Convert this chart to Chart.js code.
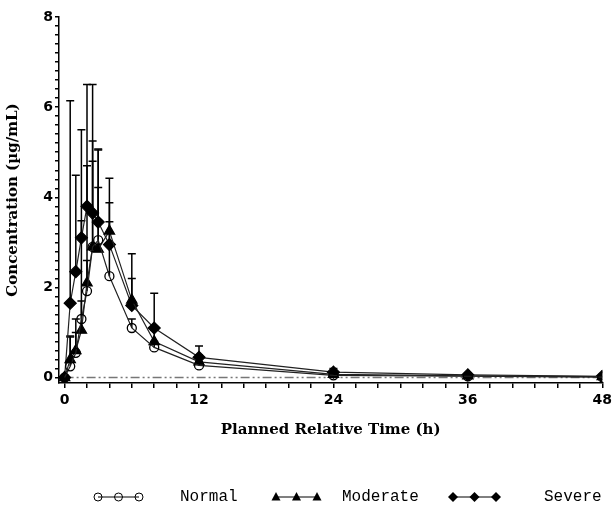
<!DOCTYPE html>
<html>
<head>
<meta charset="utf-8">
<script src="https://cdn.jsdelivr.net/npm/chart.js@4"></script>
<style>
  html, body { margin: 0; padding: 0; background: #ffffff; }
  #wrap { width: 616px; height: 511px; }
</style>
</head>
<body>
<div id="wrap"><canvas id="pkChart" width="616" height="511"></canvas></div>
<script>
// nominal sampling times (h)
const times = [0, 0.5, 1, 1.5, 2, 2.5, 3, 4, 6, 8, 12, 24, 36, 48];

// mean concentration (ug/mL) per hepatic impairment group
const normalMean = [0, 0.25, 0.55, 1.3, 1.92, 2.9, 3.05, 2.25, 1.1, 0.67, 0.27, 0.05, 0.03, 0.01];
const moderateMean = [0, 0.4, 0.6, 1.05, 2.1, 2.9, 2.85, 3.25, 1.72, 0.8, 0.35, 0.07, 0.04, 0.02];
const severeMean = [0, 1.65, 2.35, 3.1, 3.8, 3.65, 3.45, 2.95, 1.6, 1.1, 0.45, 0.12, 0.06, 0.03];

// mean + SD (top of the error bar)
const normalUpper = [0, 0.92, 1.0, 1.7, 2.6, 4.8, 4.22, 3.46, 1.3, 0.8, 0.35, 0.08, 0.05, 0.02];
const moderateUpper = [0, 0.9, 1.3, 3.48, 4.7, 6.5, 5.07, 4.42, 2.2, 1.05, 0.5, 0.12, 0.07, 0.04];
const severeUpper = [0, 6.14, 4.49, 5.5, 6.5, 5.25, 5.05, 3.88, 2.75, 1.87, 0.7, 0.2, 0.1, 0.05];

const groupNames = ['Normal', 'Moderate', 'Severe'];
const xTickLabels = [0, 12, 24, 36, 48];
const yTickLabels = [0, 2, 4, 6, 8];

const pts = (means) => times.map((t, i) => ({ x: t, y: means[i] }));
const uppers = [normalUpper, moderateUpper, severeUpper];

const errorBars = {
  id: 'errorBars',
  beforeDatasetsDraw(chart) {
    const { ctx, scales: { x, y } } = chart;
    ctx.save();
    ctx.strokeStyle = '#000';
    ctx.lineWidth = 1.5;
    uppers.forEach((up, d) => {
      const meta = chart.getDatasetMeta(d);
      meta.data.forEach((pt, i) => {
        const top = y.getPixelForValue(up[i]);
        if (pt.y - top < 1) return;
        const px = x.getPixelForValue(times[i]);
        ctx.beginPath();
        ctx.moveTo(px, pt.y);
        ctx.lineTo(px, top);
        ctx.moveTo(px - 4, top);
        ctx.lineTo(px + 4, top);
        ctx.stroke();
      });
    });
    ctx.restore();
  },
};

function drawMarker(ctx, style, cx, cy) {
  ctx.beginPath();
  if (style === 'circle') {
    ctx.arc(cx, cy, 4, 0, Math.PI * 2);
    ctx.stroke();
    return;
  }
  if (style === 'triangle') {
    ctx.moveTo(cx, cy - 5);
    ctx.lineTo(cx + 4.5, cy + 3.5);
    ctx.lineTo(cx - 4.5, cy + 3.5);
  } else {
    ctx.moveTo(cx, cy - 5);
    ctx.lineTo(cx + 5, cy);
    ctx.lineTo(cx, cy + 5);
    ctx.lineTo(cx - 5, cy);
  }
  ctx.closePath();
  ctx.fill();
}

const bottomLegend = {
  id: 'bottomLegend',
  afterDraw(chart) {
    const ctx = chart.ctx;
    const items = [
      { style: 'circle', x0: 98, x1: 139, tx: 180 },
      { style: 'triangle', x0: 276, x1: 317, tx: 342 },
      { style: 'rectRot', x0: 453, x1: 496, tx: 544 },
    ];
    const cy = 497;
    ctx.save();
    ctx.strokeStyle = '#000';
    ctx.fillStyle = '#000';
    ctx.lineWidth = 1;
    ctx.font = '16px "Liberation Mono", monospace';
    ctx.textBaseline = 'middle';
    items.forEach((it, k) => {
      ctx.beginPath();
      ctx.moveTo(it.x0, cy);
      ctx.lineTo(it.x1, cy);
      ctx.stroke();
      [it.x0, (it.x0 + it.x1) / 2, it.x1].forEach((mx) => drawMarker(ctx, it.style, mx, cy));
      ctx.fillText(groupNames[k], it.tx, cy);
    });
    ctx.restore();
  },
};

const near = (v, list) => list.some((l) => Math.abs(v - l) < 1e-6);
const tickFont = { family: '"DejaVu Sans", sans-serif', size: 14, weight: 'bold' };
const titleFont = { family: '"DejaVu Serif", serif', size: 15, weight: 'bold' };

new Chart(document.getElementById('pkChart'), {
  type: 'line',
  data: {
    datasets: [
      {
        label: groupNames[0],
        data: pts(normalMean),
        borderColor: '#222',
        borderWidth: 1.2,
        pointStyle: 'circle',
        pointRadius: 4.5,
        pointBackgroundColor: 'rgba(0,0,0,0)',
        pointBorderColor: '#000',
        pointBorderWidth: 1.3,
      },
      {
        label: groupNames[1],
        data: pts(moderateMean),
        borderColor: '#222',
        borderWidth: 1.2,
        pointStyle: 'triangle',
        pointRadius: 6,
        pointBackgroundColor: '#000',
        pointBorderColor: '#000',
      },
      {
        label: groupNames[2],
        data: pts(severeMean),
        borderColor: '#222',
        borderWidth: 1.2,
        pointStyle: 'rectRot',
        pointRadius: 6,
        pointBackgroundColor: '#000',
        pointBorderColor: '#000',
      },
      {
        label: 'zero',
        data: [{ x: 0, y: 0 }, { x: 48, y: 0 }],
        borderColor: '#777',
        borderWidth: 1.5,
        borderDash: [9, 3, 2, 3, 2, 3],
        pointRadius: 0,
      },
    ],
  },
  options: {
    responsive: false,
    animation: false,
    devicePixelRatio: 1,
    layout: { padding: { top: 17, right: 13, bottom: 68, left: 0 } },
    plugins: {
      legend: { display: false },
      tooltip: { enabled: false },
    },
    scales: {
      x: {
        type: 'linear',
        min: -0.5,
        max: 48,
        afterFit(scale) { scale.height = 60; },
        border: { display: true, color: '#000', width: 1.5 },
        grid: { drawOnChartArea: false, drawTicks: true, tickLength: 5, color: '#000', lineWidth: 1.5 },
        ticks: {
          stepSize: 2,
          includeBounds: false,
          autoSkip: false,
          maxRotation: 0,
          padding: 4,
          color: '#000',
          font: tickFont,
          callback: (v) => (near(v, xTickLabels) ? String(v) : ''),
        },
        title: { display: true, text: 'Planned Relative Time (h)', color: '#000', font: titleFont, padding: { top: 10 } },
      },
      y: {
        type: 'linear',
        min: -0.12,
        max: 8,
        afterFit(scale) { scale.width = 59; },
        border: { display: true, color: '#000', width: 1.5 },
        grid: { drawOnChartArea: false, drawTicks: true, tickLength: 4, color: '#000', lineWidth: 1.5 },
        ticks: {
          stepSize: 0.2,
          includeBounds: false,
          autoSkip: false,
          padding: 2,
          color: '#000',
          font: tickFont,
          callback: (v) => (near(v, yTickLabels) ? String(Math.round(v)) : ''),
        },
        title: { display: true, text: 'Concentration (µg/mL)', color: '#000', font: titleFont, padding: { bottom: 6 } },
      },
    },
  },
  plugins: [errorBars, bottomLegend],
});
</script>
</body>
</html>
